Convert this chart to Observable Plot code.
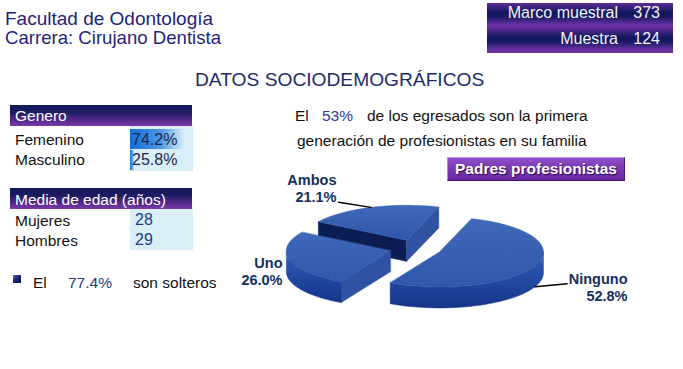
<!DOCTYPE html>
<html><head><meta charset="utf-8">
<script src="https://cdn.jsdelivr.net/npm/d3@7"></script>
<script src="https://cdn.jsdelivr.net/npm/@observablehq/plot@0.6"></script>
<style>
body{margin:0;background:#fff;}
#page{position:relative;width:683px;height:369px;overflow:hidden;background:#fff;font-family:"Liberation Sans",Arial,sans-serif;}
.abs{position:absolute;white-space:nowrap;}
</style></head><body><div id="page"></div>
<svg width="0" height="0" style="position:absolute">
 <defs>
  <linearGradient id="barGrad" x1="0" y1="0" x2="1" y2="0">
   <stop offset="0" stop-color="#1470d8"/><stop offset="0.55" stop-color="#4c98e4"/><stop offset="1" stop-color="#dceef8"/>
  </linearGradient>
  <linearGradient id="pieTop" x1="0" y1="0" x2="0" y2="1">
   <stop offset="0" stop-color="#4068b8"/><stop offset="1" stop-color="#3058aa"/>
  </linearGradient>
  <linearGradient id="pieWall" x1="0" y1="0" x2="0" y2="1">
   <stop offset="0" stop-color="#7393da"/><stop offset="0.2" stop-color="#2b55b0"/><stop offset="1" stop-color="#153488"/>
  </linearGradient>
 </defs>
</svg>
<script>
// ---------- data ----------
const titleLines = ["Facultad de Odontología", "Carrera: Cirujano Dentista"];
const sampleLabels = ["Marco muestral", "Muestra"];
const sampleValues = [373, 124];
const heading = "DATOS SOCIODEMOGRÁFICOS";
const genderHeader = "Genero";
const genderLabels = ["Femenino", "Masculino"];
const genderValues = [74.2, 25.8];
const ageHeader = "Media de edad (años)";
const ageLabels = ["Mujeres", "Hombres"];
const ageValues = [28, 29];
const singlePct = 77.4;
const firstGenPct = 53;
const pieTitle = "Padres profesionistas";
const pieLabels = ["Ninguno", "Uno", "Ambos"];
const pieValues = [52.8, 26.0, 21.1];

// ---------- layout ----------
const W = 683, H = 369;
const FONT = '"Liberation Sans", Arial, sans-serif';
const page = d3.select("#page");

function rect(x, y, w, h, bg, extra = "") {
  return page.append("div").attr("class", "abs")
    .attr("style", `left:${x}px;top:${y}px;width:${w}px;height:${h}px;background:${bg};${extra}`);
}
function text(str, x, base, size, o = {}) {
  const d = page.append("div").attr("class", "abs").text(str)
    .style("font-size", size + "px").style("line-height", size + "px")
    .style("top", (base - 0.8465 * size) + "px")
    .style("color", o.color || "#111").style("font-weight", o.weight || "normal");
  if (o.anchor === "end") d.style("right", (W - x) + "px");
  else if (o.anchor === "middle") d.style("left", x + "px").style("transform", "translateX(-50%)");
  else d.style("left", x + "px");
  if (o.shadow) d.style("text-shadow", o.shadow);
  return d;
}

// title
text(titleLines[0], 5, 25, 19, {color: "#1f1f7c"});
text(titleLines[1], 5, 45, 18.6, {color: "#1f1f7c"});

// sample box
const rowGrad = "linear-gradient(to bottom,#5f2c94 0%,#101860 38%,#1a1a64 55%,#6c32a6 88%,#6a30a2 100%)";
sampleLabels.forEach((l, i) => {
  rect(487, 3 + i * 25, 186, 25, rowGrad);
  text(l, 618, 18.5 + i * 26.5, 16, {color: "#f2f2f2", anchor: "end"});
  text(String(sampleValues[i]), 660, 18.5 + i * 26.5, 16, {color: "#f2f2f2", anchor: "end"});
});

// heading
text(heading, 195, 86.5, 19.2, {color: "#1b2a6c"});

// header bars
const headGrad = "linear-gradient(to bottom,#10185a 0%,#1c1c62 35%,#5a2a8e 75%,#7a3aa8 100%)";
rect(10, 105, 182, 21, headGrad);
text(genderHeader, 15, 120.7, 15.5, {color: "#fff"});
rect(130, 126, 63, 45, "#daeef7");

// gender data bars (Excel-style data bars)
const genderData = genderLabels.map((label, i) => ({label, value: genderValues[i]}));
const barFloor = 22, barCeil = 82;
const barPlot = Plot.plot({
  width: 63, height: 44, margin: 0,
  x: {domain: [barFloor, barCeil], range: [0, 63], axis: null},
  y: {domain: genderLabels, range: [0, 44], padding: 0.05, axis: null},
  style: {background: "transparent"},
  marks: [Plot.barX(genderData, {x1: () => barFloor, x2: "value", y: "label", fill: "url(#barGrad)"})]
});
d3.select(barPlot).style("position", "absolute").style("left", "130px").style("top", "127px");
page.node().appendChild(barPlot);

genderData.forEach((d, i) => {
  text(d.label, 15, 145.5 + i * 20, 15.5);
  text(d.value.toFixed(1) + "%", 132, 145.5 + i * 20, 16, {color: "#1a2850"});
});

rect(10, 188, 182, 21, headGrad);
text(ageHeader, 15, 205.5, 15.5, {color: "#fff"});
rect(130, 209, 63, 41, "#daeef7");
ageLabels.forEach((l, i) => {
  text(l, 15, 225.7 + i * 20, 15.5);
  text(String(ageValues[i]), 135, 225.7 + i * 20, 16, {color: "#1a3a8a"});
});

// single
rect(13, 275, 8, 8, "linear-gradient(135deg,#5a6ab0 0%,#1a2870 45%,#0a1040 100%)");
text("El", 33, 288, 15.5);
text(singlePct.toFixed(1) + "%", 68, 288, 15.5, {color: "#2a3a80"});
text("son solteros", 133, 288, 15.5);

// first generation
text("El", 295, 121.5, 15.5);
text(firstGenPct + "%", 322, 121.5, 15.5, {color: "#2a3a8a"});
text("de los egresados son la primera", 367, 121.5, 15.5);
text("generación de profesionistas en su familia", 297, 146, 15.5);

// button
rect(447, 157, 178, 24, "linear-gradient(to bottom,#9250c8 0%,#7a38b4 45%,#6a28a2 100%)",
  "box-sizing:border-box;border:1px solid;border-color:#c09ae8 #4a1a7a #3a1060 #b088e0;");
text(pieTitle, 536, 174, 15.5, {color: "#fff", weight: "bold", anchor: "middle", shadow: "1px 1px 1px #2a0a50"});

// ---------- 3D exploded pie ----------
const P = {cx: 415, cy: 248, rx: 104, ry: 35, depth: 21, explode: 0.25, start: 18};
const total = d3.sum(pieValues);
let acc = P.start;
const slices = pieLabels.map((label, i) => {
  const span = pieValues[i] / total * 360;
  const s = {label, value: pieValues[i], a: acc, b: acc + span, mid: acc + span / 2};
  acc += span;
  return s;
});
const rad = d => d * Math.PI / 180;
const off = s => ({x: P.explode * P.rx * Math.sin(rad(s.mid)), y: -P.explode * P.ry * Math.cos(rad(s.mid))});
const pt = (s, ang, dz = 0) => {
  const o = off(s);
  return {x: P.cx + o.x + P.rx * Math.sin(rad(ang)), y: P.cy + o.y - P.ry * Math.cos(rad(ang)) + dz};
};
const apex = (s, dz = 0) => { const o = off(s); return {x: P.cx + o.x, y: P.cy + o.y + dz}; };
const arc = (s, a, b, dz = 0) => {
  const n = Math.max(2, Math.ceil((b - a) / 2));
  return d3.range(n + 1).map(k => pt(s, a + (b - a) * k / n, dz));
};
const mod = a => ((a % 360) + 360) % 360;
const shade = normalDeg => {
  const c = Math.cos(rad(normalDeg - 100));
  const t = Math.max(0, Math.min(1, (c + 0.45) / 1.4));
  return d3.interpolateRgb("#0a1a50", "#2f52a2")(t);
};

const marks = [];
const order = slices.slice().sort((p, q) => Math.cos(rad(q.mid)) - Math.cos(rad(p.mid)));
order.forEach(s => {
  // cut faces
  const cuts = [];
  if (mod(s.a) > 180 && mod(s.a) < 360) cuts.push({ang: s.a, normal: s.a - 90});
  if (mod(s.b) > 0 && mod(s.b) < 180) cuts.push({ang: s.b, normal: s.b + 90});
  cuts.forEach(c => {
    const poly = [apex(s), pt(s, c.ang), pt(s, c.ang, P.depth), apex(s, P.depth)];
    const col = shade(c.normal);
    marks.push(Plot.line(poly, {x: "x", y: "y", curve: "linear-closed", fill: col, stroke: col, strokeWidth: 0.6}));
  });
  // outer wall (front half only)
  [[90, 270], [450, 630]].forEach(([f0, f1]) => {
    const lo = Math.max(s.a, f0), hi = Math.min(s.b, f1);
    if (hi > lo) {
      const poly = arc(s, lo, hi).concat(arc(s, lo, hi, P.depth).reverse());
      marks.push(Plot.line(poly, {x: "x", y: "y", curve: "linear-closed", fill: "url(#pieWall)", stroke: "#1c3c90", strokeWidth: 0.5}));
    }
  });
  // top
  const top = [apex(s)].concat(arc(s, s.a, s.b));
  marks.push(Plot.line(top, {x: "x", y: "y", curve: "linear-closed", fill: "url(#pieTop)", stroke: "#3760b0", strokeWidth: 0.5}));
});

// labels & leaders
const labelLayout = {
  Ninguno: {tx: 627, ty: 300, lx: 566.7, ly: 283.3},
  Uno: {tx: 282, ty: 284},
  Ambos: {tx: 336, ty: 201.7, lx: 338, ly: 201.7}
};
const leaders = [];
slices.forEach(s => {
  const L = labelLayout[s.label];
  if (L.lx === undefined) return;
  const front = Math.cos(rad(s.mid)) < 0;
  const r = pt(s, s.mid, front ? P.depth : 0);
  leaders.push({label: s.label, x: L.lx, y: L.ly}, {label: s.label, x: r.x, y: r.y});
});
marks.push(Plot.line(leaders, {x: "x", y: "y", z: "label", stroke: "#000", strokeWidth: 1.4}));
marks.push(Plot.text(slices, {
  x: d => labelLayout[d.label].tx, y: d => labelLayout[d.label].ty,
  text: d => `${d.label}\n${d.value.toFixed(1)}%`,
  textAnchor: "end", lineAnchor: "bottom", lineHeight: 1.17,
  fontSize: 14.5, fontWeight: "bold", fontFamily: FONT, fill: "#13305e"
}));

const piePlot = Plot.plot({
  width: W, height: H, margin: 0,
  x: {domain: [0, W], range: [0, W], axis: null},
  y: {domain: [0, H], range: [0, H], axis: null},
  style: {background: "transparent", overflow: "visible"},
  marks
});
d3.select(piePlot).style("position", "absolute").style("left", "0px").style("top", "0px");
page.node().appendChild(piePlot);
</script></body></html>
